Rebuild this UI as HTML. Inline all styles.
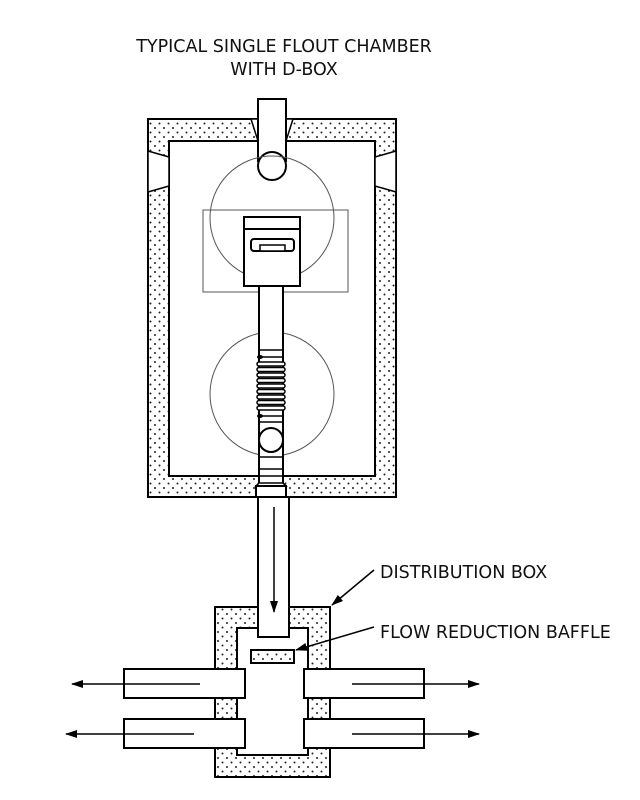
<!DOCTYPE html>
<html><head><meta charset="utf-8"><style>
html,body{margin:0;padding:0;background:#fff;}
svg{display:block;}
text{font-family:"DejaVu Sans","Liberation Sans",sans-serif;fill:#111;}
</style></head><body>
<svg width="640" height="800" viewBox="0 0 640 800" xmlns="http://www.w3.org/2000/svg">
<defs>
<pattern id="dots" width="9" height="9" patternUnits="userSpaceOnUse">
<rect width="9" height="9" fill="#fff"/>
<circle cx="2" cy="2" r="1" fill="#222"/>
<circle cx="6.5" cy="6.5" r="1" fill="#222"/>
</pattern>
<marker id="ah" markerWidth="12" markerHeight="8" refX="11" refY="4" orient="auto" markerUnits="userSpaceOnUse">
<path d="M0,0 L12,4 L0,8 z" fill="#000"/>
</marker>
</defs>
<text x="284" y="52" font-size="17.5" text-anchor="middle">TYPICAL SINGLE FLOUT CHAMBER</text>
<text x="284" y="75" font-size="17.5" text-anchor="middle">WITH D-BOX</text>

<!-- chamber -->
<rect x="148" y="119" width="248" height="378" fill="url(#dots)" stroke="#000" stroke-width="2"/>
<rect x="169" y="141" width="206" height="335" fill="#fff" stroke="#000" stroke-width="2"/>
<path d="M148,151 L169,157 L169,186 L148,192 z" fill="#fff" stroke="#000" stroke-width="1.5"/>
<path d="M396,151 L375,157 L375,186 L396,192 z" fill="#fff" stroke="#000" stroke-width="1.5"/>
<path d="M251,119 L258,141 L286,141 L293,119 z" fill="#fff" stroke="#000" stroke-width="1.5"/>
<rect x="258" y="99" width="28" height="62" fill="#fff" stroke="#000" stroke-width="2"/>
<circle cx="272" cy="166" r="14" fill="#fff" stroke="#000" stroke-width="2"/>
<circle cx="272" cy="218" r="62" fill="none" stroke="#555" stroke-width="1"/>
<rect x="203" y="210" width="145" height="82" fill="none" stroke="#555" stroke-width="1"/>
<rect x="244" y="217" width="56" height="69" fill="#fff" stroke="#000" stroke-width="2"/>
<line x1="244" y1="229" x2="300" y2="229" stroke="#000" stroke-width="2"/>
<rect x="251" y="239" width="43" height="12" rx="3" fill="#fff" stroke="#000" stroke-width="2"/>
<rect x="260" y="245" width="25" height="6" fill="#fff" stroke="#000" stroke-width="1.5"/>
<circle cx="272" cy="394" r="62" fill="none" stroke="#555" stroke-width="1"/>
<rect x="259" y="286" width="24" height="199" fill="#fff" stroke="#000" stroke-width="2"/>
<g stroke="#000" stroke-width="1.5" fill="#fff">
<line x1="259" y1="350" x2="283" y2="350"/>
<line x1="259" y1="357" x2="283" y2="357"/>
<rect x="257" y="362" width="28" height="4" rx="2"/>
<rect x="257" y="367.5" width="28" height="4" rx="2"/>
<rect x="257" y="373" width="28" height="4" rx="2"/>
<rect x="257" y="378.5" width="28" height="4" rx="2"/>
<rect x="257" y="384" width="28" height="4" rx="2"/>
<rect x="257" y="389.5" width="28" height="4" rx="2"/>
<rect x="257" y="395" width="28" height="4" rx="2"/>
<rect x="257" y="400.5" width="28" height="4" rx="2"/>
<rect x="257" y="406" width="28" height="4" rx="2"/>
<line x1="259" y1="416" x2="283" y2="416"/>
<line x1="259" y1="422" x2="283" y2="422"/>
<line x1="259" y1="457" x2="283" y2="457"/>
<line x1="259" y1="469" x2="283" y2="469"/>
<line x1="259" y1="476" x2="283" y2="476"/>
</g>
<ellipse cx="260" cy="357" rx="3" ry="2" fill="#000"/>
<ellipse cx="260" cy="416" rx="3" ry="2" fill="#000"/>
<circle cx="271" cy="440" r="12" fill="#fff" stroke="#000" stroke-width="2"/>
<path d="M259,483 L256,486 L286,486 L283,483 z" fill="#fff" stroke="#000" stroke-width="1.5"/>
<rect x="256" y="486" width="30" height="11" fill="#fff" stroke="#000" stroke-width="2"/>

<!-- d-box -->
<rect x="215" y="607" width="115" height="170" fill="url(#dots)" stroke="#000" stroke-width="2"/>
<rect x="237" y="628" width="71" height="127" fill="#fff" stroke="#000" stroke-width="2"/>
<rect x="258" y="497" width="31" height="140" fill="#fff" stroke="#000" stroke-width="2"/>
<line x1="274" y1="507" x2="274" y2="612" stroke="#000" stroke-width="1.5" marker-end="url(#ah)"/>
<rect x="251" y="650" width="43" height="13" fill="url(#dots)" stroke="#000" stroke-width="2"/>
<rect x="124" y="669" width="121" height="29" fill="#fff" stroke="#000" stroke-width="2"/>
<rect x="124" y="719" width="121" height="29" fill="#fff" stroke="#000" stroke-width="2"/>
<rect x="304" y="669" width="120" height="29" fill="#fff" stroke="#000" stroke-width="2"/>
<rect x="304" y="719" width="120" height="29" fill="#fff" stroke="#000" stroke-width="2"/>
<g stroke="#000" stroke-width="1.5" marker-end="url(#ah)">
<line x1="200" y1="684" x2="72" y2="684"/>
<line x1="194" y1="734" x2="66" y2="734"/>
<line x1="352" y1="684" x2="479" y2="684"/>
<line x1="352" y1="734" x2="479" y2="734"/>
<line x1="374" y1="570" x2="332" y2="605"/>
<line x1="374" y1="627" x2="296" y2="650"/>
</g>
<text x="380" y="578" font-size="17.5">DISTRIBUTION BOX</text>
<text x="380" y="638" font-size="17.5">FLOW REDUCTION BAFFLE</text>
</svg>
</body></html>
